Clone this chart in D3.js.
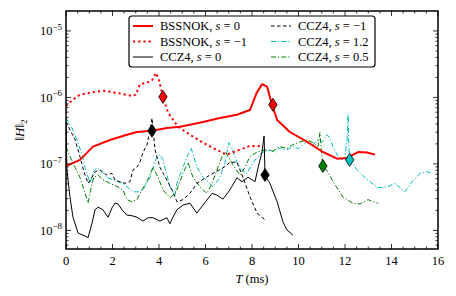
<!DOCTYPE html>
<html>
<head>
<meta charset="utf-8">
<script src="https://cdn.jsdelivr.net/npm/d3@7"></script>
<style>
  body { margin: 0; background: #fff; }
  svg { display: block; }
  text { font-family: "Liberation Serif", "DejaVu Serif", serif; fill: #000; }
</style>
</head>
<body>
<div class="canvas"></div>
<script>
// BSSNOK, s=0
const tBssnok0 = [0, 0.6, 1.16, 1.89, 2.62, 3.05, 3.7, 4.34, 4.9, 5.33, 5.89, 6.62, 7.35, 7.91, 8.2, 8.43, 8.65, 8.86, 9.08, 9.63, 10.37, 11.05, 11.66, 12.09, 12.56, 12.95, 13.29];
const hBssnok0 = [9.3e-8, 1.15e-7, 1.82e-7, 2.29e-7, 2.75e-7, 3.02e-7, 3.16e-7, 3.47e-7, 3.63e-7, 3.89e-7, 4.27e-7, 4.9e-7, 5.5e-7, 6.46e-7, 1.17e-6, 1.58e-6, 1.45e-6, 7.76e-7, 4.57e-7, 3.02e-7, 2.14e-7, 1.51e-7, 1.2e-7, 1.23e-7, 1.51e-7, 1.48e-7, 1.38e-7];

// BSSNOK, s=-1
const tBssnokM1 = [0, 0.26, 0.6, 1.16, 1.6, 2.2, 2.84, 3.0, 3.18, 3.48, 3.7, 3.87, 4.0, 4.17, 4.39, 4.69, 4.9, 5.33, 5.89, 6.49, 6.92, 7.35, 7.91, 8.43];
const hBssnokM1 = [7.4e-7, 9.1e-7, 1.1e-6, 1.2e-6, 1.26e-6, 1.17e-6, 1.05e-6, 1.1e-6, 1.58e-6, 1.66e-6, 1.82e-6, 2.34e-6, 1.82e-6, 1.02e-6, 5.9e-7, 4.17e-7, 3.47e-7, 2.75e-7, 2.09e-7, 1.62e-7, 1.38e-7, 1.58e-7, 1.86e-7, 1.86e-7];

// CCZ4, s=0
const tCcz4s0 = [0, 0.04, 0.17, 0.3, 0.52, 0.73, 0.95, 1.12, 1.25, 1.38, 1.59, 1.81, 1.98, 2.11, 2.24, 2.41, 2.62, 2.84, 3.05, 3.31, 3.53, 3.74, 4.04, 4.34, 4.47, 4.6, 4.77, 5.03, 5.33, 5.63, 5.89, 6.28, 6.49, 6.75, 7.05, 7.35, 7.57, 7.83, 8.13, 8.26, 8.43, 8.52, 8.56, 8.77, 9.08, 9.33, 9.5, 9.76];
const hCcz4s0 = [4.0e-7, 8.1e-8, 3.2e-8, 1.58e-8, 9.1e-9, 8.5e-9, 7.8e-9, 1.29e-8, 2.04e-8, 2.24e-8, 2.04e-8, 1.58e-8, 2.19e-8, 2.57e-8, 2.5e-8, 2.04e-8, 1.7e-8, 1.66e-8, 1.58e-8, 1.38e-8, 1.55e-8, 1.55e-8, 1.38e-8, 1.55e-8, 1.26e-8, 1.58e-8, 2.04e-8, 2.4e-8, 2.57e-8, 1.82e-8, 2.4e-8, 3.6e-8, 3.4e-8, 2.95e-8, 4.07e-8, 6.2e-8, 5.4e-8, 6.3e-8, 5.4e-8, 8.7e-8, 1.51e-7, 2.63e-7, 6.8e-8, 5.1e-8, 2.7e-8, 1.35e-8, 1.02e-8, 8.5e-9];

// CCZ4, s=-1
const tCcz4M1 = [0, 0.39, 0.6, 0.77, 0.95, 1.12, 1.25, 1.46, 1.76, 1.98, 2.11, 2.32, 2.54, 2.75, 2.88, 3.05, 3.18, 3.31, 3.48, 3.57, 3.7, 3.83, 4.04, 4.34, 4.56, 4.77, 5.03, 5.33, 5.63, 6.19, 6.75, 7.05, 7.35, 7.61, 7.91, 8.22, 8.56];
const hCcz4M1 = [4.3e-7, 2.3e-7, 1.29e-7, 7.6e-8, 5.1e-8, 6.3e-8, 7.6e-8, 8.1e-8, 6.8e-8, 7.2e-8, 5.7e-8, 5.4e-8, 5.1e-8, 5.4e-8, 8.1e-8, 8.9e-8, 1.05e-7, 1.48e-7, 1.95e-7, 2.75e-7, 4.9e-7, 1.62e-7, 8.9e-8, 5.7e-8, 4.07e-8, 2.7e-8, 2.9e-8, 3.6e-8, 5.1e-8, 6.8e-8, 8.7e-8, 1.05e-7, 1.07e-7, 6.3e-8, 3.2e-8, 1.82e-8, 1.44e-8];

// CCZ4, s=1.2
const tCcz4s12 = [0, 0.26, 0.47, 0.69, 0.82, 1.03, 1.16, 1.33, 1.46, 1.76, 2.02, 2.24, 2.45, 2.67, 2.88, 3.1, 3.31, 3.61, 3.91, 4.04, 4.17, 4.47, 4.69, 4.77, 5.03, 5.25, 5.38, 5.63, 5.89, 6.11, 6.32, 6.62, 6.84, 7.01, 7.18, 7.35, 7.57, 7.78, 8.04, 8.43, 8.77, 9.0, 9.2, 9.45, 9.76, 10.0, 10.37, 10.6, 10.8, 11.0, 11.23, 11.35, 11.48, 11.7, 11.87, 12.0, 12.09, 12.13, 12.17, 12.22, 12.52, 12.95, 13.42, 13.81, 14.15, 14.58, 14.88, 15.23, 15.53, 15.7];
const hCcz4s12 = [4.9e-7, 3.47e-7, 2.3e-7, 1.38e-7, 8.9e-8, 5.1e-8, 7.6e-8, 8.7e-8, 8.1e-8, 6.2e-8, 5.8e-8, 5.4e-8, 5.1e-8, 4.4e-8, 3.8e-8, 3.8e-8, 4.07e-8, 6.3e-8, 1.29e-7, 1.38e-7, 1.15e-7, 4.5e-8, 3.4e-8, 5.1e-8, 8.9e-8, 1.38e-7, 1.74e-7, 8.9e-8, 6.3e-8, 5.4e-8, 4.5e-8, 6.3e-8, 1.05e-7, 2.09e-7, 1.51e-7, 1.07e-7, 8.1e-8, 7.2e-8, 1.05e-7, 1.48e-7, 1.62e-7, 1.5e-7, 1.74e-7, 1.6e-7, 1.82e-7, 1.7e-7, 2.14e-7, 1.9e-7, 2.29e-7, 2.1e-7, 2.75e-7, 2.45e-7, 1.82e-7, 1.29e-7, 1.15e-7, 1.29e-7, 2.29e-7, 5.6e-7, 1.62e-7, 1.15e-7, 8.1e-8, 5.8e-8, 4.4e-8, 4.5e-8, 5.1e-8, 3.8e-8, 5.4e-8, 7.2e-8, 7.6e-8, 7.3e-8];

// CCZ4, s=0.5
const tCcz4s05 = [0, 0.17, 0.39, 0.6, 0.82, 0.95, 1.12, 1.2, 1.38, 1.59, 1.89, 2.24, 2.45, 2.62, 2.84, 3.05, 3.27, 3.48, 3.74, 3.96, 4.17, 4.47, 4.69, 4.77, 5.03, 5.25, 5.46, 5.76, 6.06, 6.28, 6.49, 6.75, 6.88, 7.05, 7.27, 7.48, 7.7, 7.91, 8.22, 8.56, 8.9, 9.2, 9.5, 9.76, 10.06, 10.37, 10.62, 10.84, 10.92, 11.01, 11.05, 11.23, 11.48, 11.91, 12.34, 12.65, 12.99, 13.2, 13.42];
const hCcz4s05 = [1.82e-7, 1.29e-7, 8.9e-8, 6.3e-8, 3.6e-8, 2.57e-8, 5.1e-8, 6.3e-8, 6.8e-8, 5.8e-8, 5.1e-8, 4.5e-8, 4.07e-8, 2.9e-8, 2.7e-8, 2.9e-8, 4.07e-8, 5.4e-8, 8.9e-8, 6.3e-8, 4.07e-8, 3.1e-8, 3.6e-8, 4.07e-8, 7.2e-8, 1.05e-7, 6.3e-8, 4.5e-8, 3.6e-8, 5.1e-8, 8.1e-8, 1.38e-7, 1.48e-7, 1.15e-7, 8.7e-8, 6.8e-8, 8.9e-8, 1.29e-7, 1.51e-7, 1.62e-7, 1.55e-7, 1.82e-7, 1.7e-7, 1.95e-7, 2.14e-7, 2.29e-7, 2.09e-7, 1.82e-7, 2.95e-7, 1.23e-7, 9.3e-8, 7.8e-8, 5.5e-8, 3.16e-8, 2.57e-8, 2.5e-8, 2.9e-8, 2.7e-8, 2.57e-8];

// diamond markers [t, value]
const markerT = [8.9, 4.17, 8.56, 3.7, 12.2, 11.05];
const markerH = [7.76e-7, 1.02e-6, 6.8e-8, 3.16e-7, 1.15e-7, 9.3e-8];

const xTicks = [0, 2, 4, 6, 8, 10, 12, 14, 16];
const yExps = [-8, -7, -6, -5];

const series = [
  {label: 'BSSNOK', s: '0', t: tBssnok0, h: hBssnok0, color: '#ff0000', width: 2, dash: null},
  {label: 'BSSNOK', s: '\u22121', t: tBssnokM1, h: hBssnokM1, color: '#ff0000', width: 2, dash: '2.2,3'},
  {label: 'CCZ4', s: '0', t: tCcz4s0, h: hCcz4s0, color: '#000000', width: 1, dash: null},
  {label: 'CCZ4', s: '\u22121', t: tCcz4M1, h: hCcz4M1, color: '#000000', width: 1, dash: '3.5,2.5'},
  {label: 'CCZ4', s: '1.2', t: tCcz4s12, h: hCcz4s12, color: '#00bfbf', width: 1, dash: '5,2,1.2,2'},
  {label: 'CCZ4', s: '0.5', t: tCcz4s05, h: hCcz4s05, color: '#008000', width: 1, dash: '5,2,1.2,2'}
];
const markerColor = ['#ff0000', '#ff0000', '#000000', '#000000', '#00bfbf', '#008000'];

const dims = {width: 456, height: 296};
const plot = {left: 66, right: 438, top: 11, bottom: 249};

const svg = d3.select('.canvas')
.append('svg')
.attr('width', dims.width)
.attr('height', dims.height);

const x = d3.scaleLinear().domain([0, 16]).range([plot.left, plot.right]);
const y = d3.scaleLog().domain([Math.pow(10, -8.28), Math.pow(10, -4.70)]).range([plot.bottom, plot.top]);

svg.append('clipPath').attr('id', 'clip')
.append('rect')
.attr('x', plot.left).attr('y', plot.top)
.attr('width', plot.right - plot.left).attr('height', plot.bottom - plot.top);

//lines
const line = d3.line()
.x(d => x(d[0]))
.y(d => y(d[1]));

const lines = svg.append('g').attr('clip-path', 'url(#clip)');

// draw order: cyan, green, black dashed, black, red dotted, red
[4, 5, 3, 2, 1, 0].forEach(i => {
  const s = series[i];
  lines.append('path')
  .attr('d', line(d3.zip(s.t, s.h)))
  .attr('fill', 'none')
  .attr('stroke', s.color)
  .attr('stroke-width', s.width)
  .attr('stroke-dasharray', s.dash)
  .attr('stroke-linejoin', 'round');
});

//diamonds
const diamond = 'M0,-6.5L4.2,0L0,6.5L-4.2,0Z';
lines.selectAll('.marker')
.data(d3.range(markerT.length))
.enter()
.append('path')
.attr('class', 'marker')
.attr('d', diamond)
.attr('transform', i => `translate(${x(markerT[i])}, ${y(markerH[i])})`)
.attr('fill', i => markerColor[i])
.attr('stroke', '#000')
.attr('stroke-width', 0.8);

//ticks
const ticks = svg.append('g').attr('stroke', '#000').attr('stroke-width', 0.8);
const xMinor = d3.range(0, 16.01, 0.5);
xMinor.forEach(v => {
  const major = xTicks.includes(v);
  const len = major ? 5 : 2.5;
  ticks.append('line').attr('x1', x(v)).attr('x2', x(v)).attr('y1', plot.bottom).attr('y2', plot.bottom - len);
  ticks.append('line').attr('x1', x(v)).attr('x2', x(v)).attr('y1', plot.top).attr('y2', plot.top + len);
});
y.ticks().forEach(v => {
  const e = Math.log10(v);
  const major = Math.abs(e - Math.round(e)) < 1e-6;
  const len = major ? 5 : 2.5;
  ticks.append('line').attr('x1', plot.left).attr('x2', plot.left + len).attr('y1', y(v)).attr('y2', y(v));
  ticks.append('line').attr('x1', plot.right).attr('x2', plot.right - len).attr('y1', y(v)).attr('y2', y(v));
});

//frame
svg.append('rect')
.attr('x', plot.left).attr('y', plot.top)
.attr('width', plot.right - plot.left).attr('height', plot.bottom - plot.top)
.attr('fill', 'none')
.attr('stroke', '#000')
.attr('stroke-width', 1.5);

//tick labels
svg.append('g').selectAll('text')
.data(xTicks)
.enter()
.append('text')
.attr('x', d => x(d))
.attr('y', plot.bottom + 16)
.attr('text-anchor', 'middle')
.style('font-size', '12.5px')
.text(d => d);

const yLab = svg.append('g').selectAll('text')
.data(yExps)
.enter()
.append('text')
.attr('x', plot.left - 4)
.attr('y', d => y(Math.pow(10, d)) + 4.5)
.attr('text-anchor', 'end')
.style('font-size', '12.5px');
yLab.append('tspan').text('10');
yLab.append('tspan').attr('dy', -5.5).style('font-size', '9px').text(d => '\u2212' + Math.abs(d));

//axis titles
const xt = svg.append('text')
.attr('x', (plot.left + plot.right) / 2)
.attr('y', 283)
.attr('text-anchor', 'middle')
.style('font-size', '12.5px');
xt.append('tspan').style('font-style', 'italic').text('T');
xt.append('tspan').text(' (ms)');

const yt = svg.append('text')
.attr('transform', `translate(24, ${(plot.top + plot.bottom) / 2}) rotate(-90)`)
.attr('text-anchor', 'middle')
.style('font-size', '13px');
yt.append('tspan').text('\u2016');
yt.append('tspan').style('font-style', 'italic').text('H');
yt.append('tspan').text('\u2016');
yt.append('tspan').attr('dy', 3).style('font-size', '9px').text('2');

//legend
const legend = svg.append('g');
legend.append('rect')
.attr('x', 129).attr('y', 16)
.attr('width', 246).attr('height', 51)
.attr('rx', 3)
.attr('fill', '#fff')
.attr('stroke', '#000')
.attr('stroke-width', 1.2);

series.forEach((s, i) => {
  const col = Math.floor(i / 3), row = i % 3;
  const lx = col === 0 ? 133 : 271;
  const ly = 26 + row * 15.5;
  legend.append('line')
  .attr('x1', lx).attr('x2', lx + 20)
  .attr('y1', ly).attr('y2', ly)
  .attr('stroke', s.color)
  .attr('stroke-width', s.width)
  .attr('stroke-dasharray', s.dash);
  const tx = legend.append('text')
  .attr('x', lx + 27)
  .attr('y', ly + 4)
  .style('font-size', '12.5px');
  tx.append('tspan').text(s.label + ', ');
  tx.append('tspan').style('font-style', 'italic').text('s');
  tx.append('tspan').text(' = ' + s.s);
});
</script>
</body>
</html>
